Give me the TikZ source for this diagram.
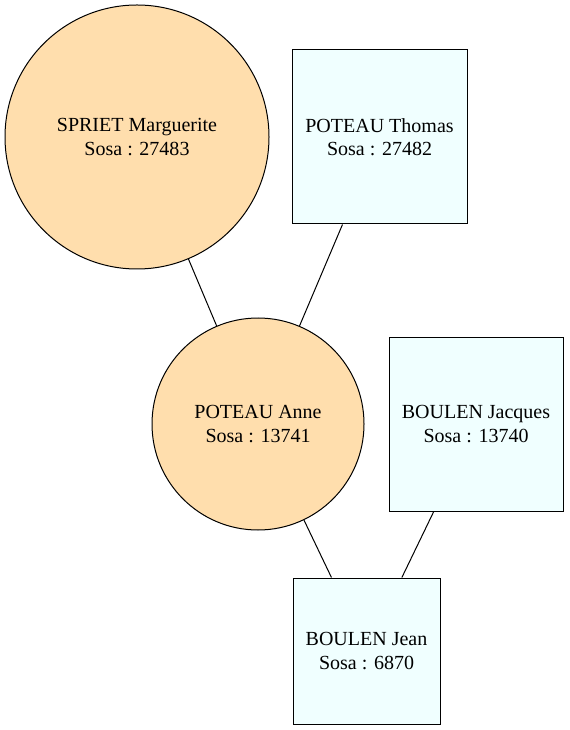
\documentclass[tikz,border=0pt]{standalone}
\usepackage{fontspec}
\setmainfont{Liberation Serif}
\definecolor{peach}{HTML}{FFDEAD}
\definecolor{azurec}{HTML}{F0FFFF}
\begin{document}
\begin{tikzpicture}[x=0.75pt,y=-0.75pt,
  lbl/.style={font=\fontsize{15}{17.5}\selectfont,align=center,inner sep=0pt},
  fem/.style={lbl,circle,draw=black,fill=peach,line width=0.75pt},
  man/.style={lbl,rectangle,draw=black,fill=azurec,line width=0.75pt},
  link/.style={draw=black,line width=0.75pt}]
\useasboundingbox (0,0) rectangle (569,730);
\node[fem,minimum size=264*0.75pt] (spriet) at (137,137) {SPRIET Marguerite\\Sosa : 27483};
\node[man,minimum width=175*0.75pt,minimum height=174*0.75pt] (thomas) at (379.5,137) {POTEAU Thomas\\Sosa : 27482};
\node[fem,minimum size=212*0.75pt] (anne) at (258,424) {POTEAU Anne\\Sosa : 13741};
\node[man,minimum width=174*0.75pt,minimum height=174*0.75pt] (jacques) at (476,424) {BOULEN Jacques\\Sosa : 13740};
\node[man,minimum width=147*0.75pt,minimum height=146*0.75pt] (jean) at (366.5,651) {BOULEN Jean\\Sosa : 6870};
\draw[link] (spriet) -- (anne);
\draw[link] (thomas) -- (anne);
\draw[link] (anne) -- (jean);
\draw[link] (jacques) -- (jean);
\end{tikzpicture}
\end{document}
